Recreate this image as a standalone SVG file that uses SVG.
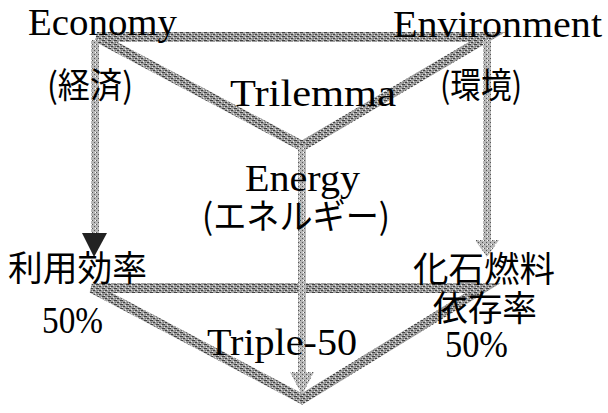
<svg xmlns="http://www.w3.org/2000/svg" width="608" height="413" viewBox="0 0 608 413">
<style>
.lat{font-family:"Liberation Serif","Times New Roman",serif;font-size:37px;fill:#000}
.cjk{font-family:"Noto Sans CJK JP","Noto Sans CJK SC",sans-serif;font-size:35px;fill:#000}
.bar{fill:none;stroke:url(#dither);stroke-width:10;stroke-linejoin:miter}
.shaft{stroke:url(#dither2);stroke-width:8}
</style>
<defs>
<pattern id="dither" width="6" height="4" patternUnits="userSpaceOnUse">
<rect width="6" height="4" fill="#a0a0a0"/>
<rect x="0" y="0" width="3" height="1" fill="#404040"/>
<rect x="3" y="2" width="2" height="1" fill="#404040"/>
<rect x="1" y="2" width="1" height="1" fill="#6a6a6a"/>
<rect x="5" y="1" width="1" height="1" fill="#e8e8e8"/>
<rect x="2" y="3" width="1" height="1" fill="#e8e8e8"/>
</pattern>
<pattern id="dither2" width="4" height="4" patternUnits="userSpaceOnUse">
<rect width="4" height="4" fill="#b8b8b8"/>
<rect x="0" y="0" width="1" height="1" fill="#555"/>
<rect x="2" y="2" width="1" height="1" fill="#555"/>
<rect x="3" y="0" width="1" height="1" fill="#fff"/>
</pattern>
</defs>
<g id="connectors">
<polygon class="bar" points="97,37 487,37 302,146"/>
<polygon class="bar" points="92,288 483,288 302,399"/>
<line class="shaft" x1="95" y1="40" x2="95" y2="236"/>
<polygon points="82,233 107,233 94,257" fill="#222"/>
<line class="shaft" x1="487" y1="40" x2="487" y2="242"/>
<polygon points="475,240 499,240 487,257" fill="url(#dither2)"/>
<line class="shaft" x1="302" y1="146" x2="302" y2="374"/>
<polygon points="290,372 314,372 302,395" fill="url(#dither2)"/>
</g>
<g id="economy">
<text class="lat" x="28" y="35" textLength="149" lengthAdjust="spacingAndGlyphs">Economy</text>
<text class="cjk" x="47" y="98" textLength="86" lengthAdjust="spacingAndGlyphs">(経済)</text>
</g>
<g id="environment">
<text class="lat" x="393" y="37" textLength="209" lengthAdjust="spacingAndGlyphs">Environment</text>
<text class="cjk" x="440" y="98" textLength="82" lengthAdjust="spacingAndGlyphs">(環境)</text>
</g>
<g id="trilemma">
<text class="lat" x="230" y="106" textLength="166" lengthAdjust="spacingAndGlyphs">Trilemma</text>
</g>
<g id="energy">
<text class="lat" x="245" y="191" textLength="115" lengthAdjust="spacingAndGlyphs">Energy</text>
<text class="cjk" x="202" y="229" textLength="188" lengthAdjust="spacingAndGlyphs">(エネルギー)</text>
</g>
<g id="efficiency">
<text class="cjk" x="8" y="281" textLength="139" lengthAdjust="spacingAndGlyphs">利用効率</text>
<text class="lat" x="42" y="333" textLength="61" lengthAdjust="spacingAndGlyphs">50%</text>
</g>
<g id="fossil">
<text class="cjk" x="413" y="282" textLength="142" lengthAdjust="spacingAndGlyphs">化石燃料</text>
<text class="cjk" x="433" y="321" textLength="104" lengthAdjust="spacingAndGlyphs">依存率</text>
<text class="lat" x="445" y="357" textLength="63" lengthAdjust="spacingAndGlyphs">50%</text>
</g>
<g id="triple50">
<text class="lat" x="207" y="355" textLength="150" lengthAdjust="spacingAndGlyphs">Triple-50</text>
</g>
</svg>
